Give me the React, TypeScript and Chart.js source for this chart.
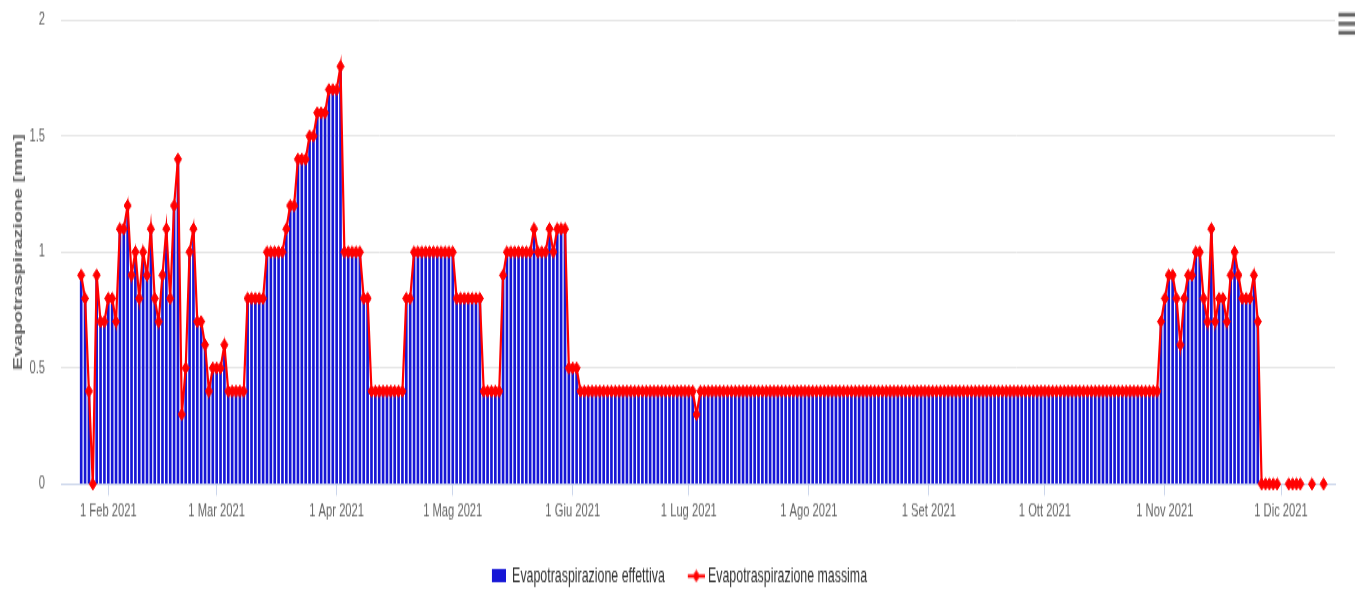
import React, { useEffect, useRef } from 'react';
import { Chart, registerables } from 'chart.js';

Chart.register(...registerables);

// Day index 0 = 25 Gen 2021 (one value per day)
const xTickValues = [7, 35, 66, 96, 127, 157, 188, 219, 249, 280, 310];
const xTickLabels = [
  '1 Feb 2021', '1 Mar 2021', '1 Apr 2021', '1 Mag 2021', '1 Giu 2021', '1 Lug 2021',
  '1 Ago 2021', '1 Set 2021', '1 Ott 2021', '1 Nov 2021', '1 Dic 2021',
];
const yTickValues = [0, 0.5, 1, 1.5, 2];
const yTickLabels = ['0', '0.5', '1', '1.5', '2'];
const legendLabels = ['Evapotraspirazione effettiva', 'Evapotraspirazione massima'];
const yTitle = 'Evapotraspirazione [mm]';

const massima: (number | null)[] = [
  0.9, 0.8, 0.4, 0, 0.9, 0.7, 0.7, 0.8, 0.8, 0.7,
  1.1, 1.1, 1.2, 0.9, 1, 0.8, 1, 0.9, 1.1, 0.8,
  0.7, 0.9, 1.1, 0.8, 1.2, 1.4, 0.3, 0.5, 1, 1.1,
  0.7, 0.7, 0.6, 0.4, 0.5, 0.5, 0.5, 0.6, 0.4, 0.4,
  0.4, 0.4, 0.4, 0.8, 0.8, 0.8, 0.8, 0.8, 1, 1,
  1, 1, 1, 1.1, 1.2, 1.2, 1.4, 1.4, 1.4, 1.5,
  1.5, 1.6, 1.6, 1.6, 1.7, 1.7, 1.7, 1.8, 1, 1,
  1, 1, 1, 0.8, 0.8, 0.4, 0.4, 0.4, 0.4, 0.4,
  0.4, 0.4, 0.4, 0.4, 0.8, 0.8, 1, 1, 1, 1,
  1, 1, 1, 1, 1, 1, 1, 0.8, 0.8, 0.8,
  0.8, 0.8, 0.8, 0.8, 0.4, 0.4, 0.4, 0.4, 0.4, 0.9,
  1, 1, 1, 1, 1, 1, 1, 1.1, 1, 1,
  1, 1.1, 1, 1.1, 1.1, 1.1, 0.5, 0.5, 0.5, 0.4,
  0.4, 0.4, 0.4, 0.4, 0.4, 0.4, 0.4, 0.4, 0.4, 0.4,
  0.4, 0.4, 0.4, 0.4, 0.4, 0.4, 0.4, 0.4, 0.4, 0.4,
  0.4, 0.4, 0.4, 0.4, 0.4, 0.4, 0.4, 0.4, 0.4, 0.3,
  0.4, 0.4, 0.4, 0.4, 0.4, 0.4, 0.4, 0.4, 0.4, 0.4,
  0.4, 0.4, 0.4, 0.4, 0.4, 0.4, 0.4, 0.4, 0.4, 0.4,
  0.4, 0.4, 0.4, 0.4, 0.4, 0.4, 0.4, 0.4, 0.4, 0.4,
  0.4, 0.4, 0.4, 0.4, 0.4, 0.4, 0.4, 0.4, 0.4, 0.4,
  0.4, 0.4, 0.4, 0.4, 0.4, 0.4, 0.4, 0.4, 0.4, 0.4,
  0.4, 0.4, 0.4, 0.4, 0.4, 0.4, 0.4, 0.4, 0.4, 0.4,
  0.4, 0.4, 0.4, 0.4, 0.4, 0.4, 0.4, 0.4, 0.4, 0.4,
  0.4, 0.4, 0.4, 0.4, 0.4, 0.4, 0.4, 0.4, 0.4, 0.4,
  0.4, 0.4, 0.4, 0.4, 0.4, 0.4, 0.4, 0.4, 0.4, 0.4,
  0.4, 0.4, 0.4, 0.4, 0.4, 0.4, 0.4, 0.4, 0.4, 0.4,
  0.4, 0.4, 0.4, 0.4, 0.4, 0.4, 0.4, 0.4, 0.4, 0.4,
  0.4, 0.4, 0.4, 0.4, 0.4, 0.4, 0.4, 0.4, 0.4, 0.7,
  0.8, 0.9, 0.9, 0.8, 0.6, 0.8, 0.9, 0.9, 1, 1,
  0.8, 0.7, 1.1, 0.7, 0.8, 0.8, 0.7, 0.9, 1, 0.9,
  0.8, 0.8, 0.8, 0.9, 0.7, 0, 0, 0, 0, 0,
  null, null, 0, 0, 0, 0, null, null, 0, null,
  null, 0,
];

const effettiva: (number | null)[] = [
  0.9, 0.8, 0.4, 0, 0.9, 0.7, 0.7, 0.8, 0.8, 0.7,
  1.1, 1.1, 1.2, 0.9, 1, 0.8, 1, 0.9, 1.1, 0.8,
  0.7, 0.9, 1.1, 0.8, 1.2, 1.4, 0.3, 0.5, 1, 1.1,
  0.7, 0.7, 0.6, 0.4, 0.5, 0.5, 0.5, 0.6, 0.4, 0.4,
  0.4, 0.4, 0.4, 0.8, 0.8, 0.8, 0.8, 0.8, 1, 1,
  1, 1, 1, 1.1, 1.2, 1.2, 1.4, 1.4, 1.4, 1.5,
  1.5, 1.6, 1.6, 1.6, 1.7, 1.7, 1.7, 1.8, 1, 1,
  1, 1, 1, 0.8, 0.8, 0.4, 0.4, 0.4, 0.4, 0.4,
  0.4, 0.4, 0.4, 0.4, 0.8, 0.8, 1, 1, 1, 1,
  1, 1, 1, 1, 1, 1, 1, 0.8, 0.8, 0.8,
  0.8, 0.8, 0.8, 0.8, 0.4, 0.4, 0.4, 0.4, 0.4, 0.9,
  1, 1, 1, 1, 1, 1, 1, 1.1, 1, 1,
  1, 1.1, 1, 1.1, 1.1, 1.1, 0.5, 0.5, 0.5, 0.4,
  0.4, 0.4, 0.4, 0.4, 0.4, 0.4, 0.4, 0.4, 0.4, 0.4,
  0.4, 0.4, 0.4, 0.4, 0.4, 0.4, 0.4, 0.4, 0.4, 0.4,
  0.4, 0.4, 0.4, 0.4, 0.4, 0.4, 0.4, 0.4, 0.4, 0.3,
  0.4, 0.4, 0.4, 0.4, 0.4, 0.4, 0.4, 0.4, 0.4, 0.4,
  0.4, 0.4, 0.4, 0.4, 0.4, 0.4, 0.4, 0.4, 0.4, 0.4,
  0.4, 0.4, 0.4, 0.4, 0.4, 0.4, 0.4, 0.4, 0.4, 0.4,
  0.4, 0.4, 0.4, 0.4, 0.4, 0.4, 0.4, 0.4, 0.4, 0.4,
  0.4, 0.4, 0.4, 0.4, 0.4, 0.4, 0.4, 0.4, 0.4, 0.4,
  0.4, 0.4, 0.4, 0.4, 0.4, 0.4, 0.4, 0.4, 0.4, 0.4,
  0.4, 0.4, 0.4, 0.4, 0.4, 0.4, 0.4, 0.4, 0.4, 0.4,
  0.4, 0.4, 0.4, 0.4, 0.4, 0.4, 0.4, 0.4, 0.4, 0.4,
  0.4, 0.4, 0.4, 0.4, 0.4, 0.4, 0.4, 0.4, 0.4, 0.4,
  0.4, 0.4, 0.4, 0.4, 0.4, 0.4, 0.4, 0.4, 0.4, 0.4,
  0.4, 0.4, 0.4, 0.4, 0.4, 0.4, 0.4, 0.4, 0.4, 0.4,
  0.4, 0.4, 0.4, 0.4, 0.4, 0.4, 0.4, 0.4, 0.4, 0.7,
  0.8, 0.9, 0.9, 0.8, 0.6, 0.8, 0.9, 0.9, 1, 1,
  0.8, 0.7, 1.1, 0.7, 0.8, 0.8, 0.7, 0.9, 1, 0.9,
  0.8, 0.8, 0.8, 0.9, 0.7, null, null, null, null, null,
  null, null, null, null, null, null, null, null, null, null,
  null, null,
];

// Layout (internal canvas is drawn at HI height and stretched to H, like the reference)
const W = 1370;
const H = 592;
const HI = 360;
const SY = H / HI;
const PLOT_LEFT = 61;
const PLOT_TOP = 20 / SY;
const PLOT_BOTTOM = 484 / SY;
const RIGHT_PAD = 14;
const RIGHT_AXIS_W = 21;
const LEGEND_CENTER = 576 / SY;
const X_MIN = -5.22;
const X_MAX = 323.95;
const BLUE = '#1616d6';
const RED = '#ff0000';
const FONT = "'Liberation Sans', Arial, Helvetica, sans-serif";
const LEGEND_FONT_SIZE = 12.4;
const LEGEND_PAD = 20;

function makeSquareIcon(): HTMLCanvasElement {
  const c = document.createElement('canvas');
  c.width = 17;
  c.height = 8;
  const g = c.getContext('2d')!;
  g.fillStyle = BLUE;
  g.fillRect(3, 0, 14, 8);
  return c;
}

function makeLineIcon(): HTMLCanvasElement {
  const c = document.createElement('canvas');
  c.width = 23;
  c.height = 8;
  const g = c.getContext('2d')!;
  g.strokeStyle = RED;
  g.lineWidth = 2;
  g.beginPath();
  g.moveTo(6, 4);
  g.lineTo(23, 4);
  g.stroke();
  g.fillStyle = RED;
  g.beginPath();
  g.moveTo(14.5, 0.2);
  g.lineTo(18.4, 4);
  g.lineTo(14.5, 7.8);
  g.lineTo(10.6, 4);
  g.closePath();
  g.fill();
  return c;
}

const legendShift = {
  id: 'legendShift',
  afterLayout(chart: any) {
    const lg = chart.legend;
    if (!lg) return;
    const current = lg.top + LEGEND_PAD + LEGEND_FONT_SIZE / 2;
    const d = LEGEND_CENTER - current;
    lg.top += d;
    lg.bottom += d;
  },
};

const menuIcon = {
  id: 'menuIcon',
  afterDraw(chart: any) {
    const ctx = chart.ctx;
    ctx.save();
    ctx.fillStyle = '#666666';
    [12.7, 21.7, 30.7].forEach((y) => {
      ctx.fillRect(1338.5, y / SY, 16.5, 4 / SY);
    });
    ctx.restore();
  },
};

export default function App() {
  const ref = useRef<HTMLCanvasElement>(null);

  useEffect(() => {
    const canvas = ref.current;
    if (!canvas) return;
    const squareIcon = makeSquareIcon();
    const lineIcon = makeLineIcon();

    const chart = new Chart(canvas, {
      type: 'bar',
      data: {
        datasets: [
          {
            type: 'bar',
            label: legendLabels[0],
            data: effettiva.map((v, i) => ({ x: i, y: v })) as any,
            backgroundColor: BLUE,
            borderWidth: 0,
            barThickness: 2,
            order: 2,
          },
          {
            type: 'line',
            label: legendLabels[1],
            data: massima.map((v, i) => ({ x: i, y: v })) as any,
            borderColor: RED,
            backgroundColor: RED,
            borderWidth: 2.2,
            pointStyle: 'rectRot',
            pointRadius: 3.6,
            pointBorderWidth: 1,
            pointBackgroundColor: RED,
            pointBorderColor: RED,
            tension: 0,
            spanGaps: false,
            clip: false as any,
            order: 1,
          } as any,
        ],
      },
      options: {
        responsive: false,
        maintainAspectRatio: false,
        animation: false,
        devicePixelRatio: 1,
        events: [],
        layout: { padding: { top: PLOT_TOP, right: RIGHT_PAD, bottom: 0, left: 0 } },
        scales: {
          x: {
            type: 'linear',
            min: X_MIN,
            max: X_MAX,
            offset: false,
            afterBuildTicks: (s: any) => {
              s.ticks = xTickValues.map((v) => ({ value: v }));
            },
            afterFit: (s: any) => {
              const lh = s.chart.legend ? s.chart.legend.height : 0;
              s.height = HI - PLOT_BOTTOM - lh;
            },
            ticks: {
              autoSkip: false,
              maxRotation: 0,
              minRotation: 0,
              padding: 2.5,
              color: '#666666',
              font: { family: FONT, size: 11.2 },
              callback: (_v: any, i: number) => xTickLabels[i],
            },
            grid: {
              display: true,
              drawOnChartArea: false,
              drawTicks: true,
              tickLength: 7,
              color: '#ccd6eb',
              lineWidth: 1,
              offset: false,
            },
            border: { display: true, color: '#ccd6eb', width: 1 },
          },
          y: {
            type: 'linear',
            position: 'left',
            min: 0,
            max: 2,
            afterBuildTicks: (s: any) => {
              s.ticks = yTickValues.map((v) => ({ value: v }));
            },
            afterFit: (s: any) => {
              s.width = PLOT_LEFT;
            },
            ticks: {
              padding: 0,
              color: '#666666',
              font: { family: FONT, size: 11.2 },
              callback: (_v: any, i: number) => yTickLabels[i],
            },
            grid: {
              color: '#e6e6e6',
              lineWidth: 1,
              drawTicks: true,
              tickLength: 16,
              tickColor: 'rgba(0,0,0,0)',
            },
            border: { display: false },
            title: {
              display: true,
              text: yTitle,
              color: '#666666',
              font: { family: FONT, size: 12, weight: 'bold' },
              padding: { top: 11.6, bottom: 0 },
            },
          },
          y2: {
            type: 'linear',
            position: 'right',
            min: 0,
            max: 1,
            display: true,
            grid: { display: false },
            border: { display: false },
            ticks: { display: false, padding: 0 },
            afterFit: (s: any) => {
              s.width = RIGHT_AXIS_W;
            },
          },
        } as any,
        plugins: {
          legend: {
            display: true,
            position: 'bottom',
            align: 'center',
            labels: {
              usePointStyle: true,
              pointStyleWidth: 17,
              padding: LEGEND_PAD,
              color: '#333333',
              font: { family: FONT, size: LEGEND_FONT_SIZE },
              generateLabels: () => [
                {
                  text: legendLabels[0],
                  fillStyle: BLUE,
                  strokeStyle: BLUE,
                  lineWidth: 0,
                  pointStyle: squareIcon,
                  hidden: false,
                  datasetIndex: 0,
                  fontColor: '#333333',
                } as any,
                {
                  text: legendLabels[1],
                  fillStyle: RED,
                  strokeStyle: RED,
                  lineWidth: 0,
                  pointStyle: lineIcon,
                  hidden: false,
                  datasetIndex: 1,
                  fontColor: '#333333',
                } as any,
              ],
            },
          },
          tooltip: { enabled: false },
          title: { display: false },
        },
      },
      plugins: [legendShift, menuIcon],
    } as any);

    return () => {
      chart.destroy();
    };
  }, []);

  return (
    <div style={{ position: 'fixed', left: 0, top: 0, width: W, height: H, background: '#ffffff' }}>
      <canvas
        ref={ref}
        width={W}
        height={HI}
        style={{ width: W + 'px', height: H + 'px', display: 'block' }}
      />
    </div>
  );
}
